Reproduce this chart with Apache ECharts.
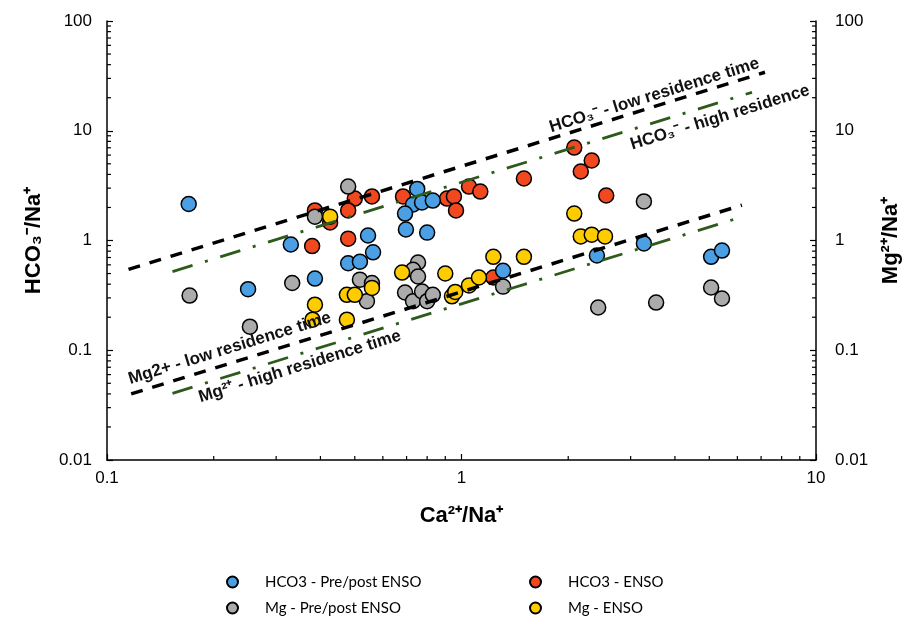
<!DOCTYPE html>
<html><head><meta charset="utf-8">
<script src="https://cdn.jsdelivr.net/npm/echarts@6/dist/echarts.min.js"></script>
<style>html,body{margin:0;padding:0;background:#fff}#c{width:920px;height:623px}</style>
</head><body><div id="c"></div>
<script>
// ---- data (x = Ca2+/Na+, y = ratio) ----
const hco3PrePost = [[0.17,2.15],[0.33,0.92],[0.386,0.45],[0.25,0.36],[0.75,2.95],[0.73,2.13],[0.774,2.22],[0.83,2.31],[0.693,1.76],[0.697,1.26],[0.80,1.18],[0.545,1.11],[0.563,0.78],[0.479,0.62],[0.517,0.64],[1.31,0.53],[2.41,0.73],[3.27,0.94],[5.06,0.71],[5.43,0.81]];
const hco3Enso = [[0.386,1.88],[0.50,2.41],[0.559,2.52],[0.479,1.88],[0.426,1.46],[0.479,1.04],[0.379,0.89],[0.684,2.52],[0.91,2.41],[0.952,2.52],[0.965,1.88],[1.05,3.10],[1.13,2.79],[1.50,3.67],[2.17,4.25],[2.08,7.03],[2.33,5.36],[2.56,2.57],[1.23,0.46]];
const mgPrePost = [[0.479,3.10],[0.386,1.65],[0.171,0.315],[0.253,0.164],[0.333,0.41],[0.517,0.44],[0.559,0.41],[0.541,0.28],[0.754,0.63],[0.73,0.54],[0.754,0.47],[0.693,0.336],[0.73,0.28],[0.774,0.343],[0.80,0.28],[0.83,0.32],[1.31,0.38],[3.27,2.27],[2.43,0.245],[3.54,0.272],[5.06,0.373],[5.43,0.296]];
const mgEnso = [[0.426,1.65],[0.386,0.26],[0.38,0.19],[0.475,0.19],[0.475,0.32],[0.50,0.32],[0.559,0.37],[0.68,0.51],[0.90,0.50],[0.94,0.31],[0.96,0.34],[1.05,0.39],[1.12,0.46],[1.23,0.71],[1.50,0.71],[2.08,1.76],[2.17,1.09],[2.33,1.13],[2.54,1.09]];
// reference lines (end points)
const hco3LowLine = [[0.115,0.545],[7.18,34.1]];
const hco3HighLine = [[0.153,0.52],[6.6,22.4]];
const mgLowLine = [[0.117,0.040],[6.18,2.1]];
const mgHighLine = [[0.153,0.0405],[6.22,1.65]];
// axis ranges / ticks
const xRange = [0.1, 10];
const yRange = [0.01, 100];
const minorMultipliers = [2,3,4,5,6,7,8,9];
const xDecades = [0.1, 1];
const yDecades = [0.01, 0.1, 1, 10];
// names
const seriesNames = ['HCO3 - Pre/post ENSO','HCO3 - ENSO','Mg - Pre/post ENSO','Mg - ENSO'];
const lineLabels = ['HCO\u2083\u207B - low residence time','HCO\u2083\u207B - high residence','Mg2+ - low residence time','Mg\u00B2\u207A - high residence time'];
const lineLabelAnchors = [[3.5,21],[5.36,13.2],[0.222,0.104],[0.35,0.071]];

const colors = {blue:'#4A9FE5', red:'#F2481F', gray:'#ABABAB', yellow:'#FFCC00', green:'#2E5A1C'};
const tickFont = {color:'#000', fontSize:17, fontFamily:'Liberation Sans'};
const nameFont = {color:'#000', fontSize:22, fontWeight:'bold', fontFamily:'Liberation Sans'};

const minorData = [];
xDecades.forEach(d => minorMultipliers.forEach(m => minorData.push([+(d*m).toPrecision(3), yRange[0], 0])));
yDecades.forEach(d => minorMultipliers.forEach(m => {
  const v = +(d*m).toPrecision(3);
  minorData.push([xRange[0], v, 1]);
  minorData.push([xRange[1], v, 2]);
}));

function scatter(name, data, color){
  return {type:'scatter', name, data, symbol:'circle', symbolSize:15,
    itemStyle:{color, borderColor:'#000', borderWidth:1.5, opacity:1}, z:2};
}
function refLine(data, color, type, width){
  return {type:'line', data, showSymbol:false, symbol:'none', silent:true, z:4,
    lineStyle:{color, type, width, cap:'butt'}};
}
const legendText = {color:'#000', fontSize:15, fontFamily:'Lato', lineHeight:18, padding:[0,0,0,22]};

const option = {
  animation:false,
  backgroundColor:'#fff',
  grid:{left:107, right:104, top:21, bottom:163, containLabel:false},
  xAxis:{type:'log', logBase:10, min:xRange[0], max:xRange[1],
    name:'Ca\u00B2\u207A/Na\u207A', nameLocation:'middle', nameGap:45, nameTextStyle:nameFont,
    axisLine:{show:true, onZero:false, lineStyle:{color:'#000', width:1.5}},
    axisTick:{show:true, inside:true, length:6, lineStyle:{color:'#000', width:1.2}},
    axisLabel:{...tickFont, margin:10},
    splitLine:{show:false}, minorTick:{show:false}},
  yAxis:[
    {type:'log', logBase:10, min:yRange[0], max:yRange[1], position:'left',
      name:'HCO\u2083\u207B/Na\u207A', nameLocation:'middle', nameRotate:90, nameGap:62, nameTextStyle:nameFont,
      axisLine:{show:true, lineStyle:{color:'#000', width:1.5}},
      axisTick:{show:true, inside:true, length:6, lineStyle:{color:'#000', width:1.2}},
      axisLabel:{...tickFont, margin:15}, splitLine:{show:false}},
    {type:'log', logBase:10, min:yRange[0], max:yRange[1], position:'right',
      name:'Mg\u00B2\u207A/Na\u207A', nameLocation:'middle', nameRotate:90, nameGap:64, nameTextStyle:nameFont,
      axisLine:{show:true, lineStyle:{color:'#000', width:1.5}},
      axisTick:{show:true, inside:true, length:6, lineStyle:{color:'#000', width:1.2}},
      axisLabel:{...tickFont, margin:19}, splitLine:{show:false}}
  ],
  legend:[
    {data:[seriesNames[0], seriesNames[2]], orient:'vertical', left:226, top:573, itemGap:8, padding:0,
      itemWidth:11, itemHeight:11, icon:'circle', textStyle:legendText},
    {data:[seriesNames[1], seriesNames[3]], orient:'vertical', left:529, top:573, itemGap:8, padding:0,
      itemWidth:11, itemHeight:11, icon:'circle', textStyle:legendText}
  ],
  series:[
    {type:'custom', name:'minorTicks', data:minorData, silent:true, clip:false, z:5,
      encode:{x:0, y:1},
      renderItem:function(params, api){
        const p = api.coord([api.value(0), api.value(1)]);
        const k = api.value(2);
        let s;
        if(k===0) s={x1:p[0], y1:p[1], x2:p[0], y2:p[1]-4};
        else if(k===1) s={x1:p[0], y1:p[1], x2:p[0]+4, y2:p[1]};
        else s={x1:p[0], y1:p[1], x2:p[0]-4, y2:p[1]};
        return {type:'line', shape:s, style:{stroke:'#000', lineWidth:1.2}};
      }},
    scatter(seriesNames[1], hco3Enso, colors.red),
    scatter(seriesNames[0], hco3PrePost, colors.blue),
    Object.assign(scatter(seriesNames[2], mgPrePost, colors.gray), {yAxisIndex:1}),
    Object.assign(scatter(seriesNames[3], mgEnso, colors.yellow), {yAxisIndex:1}),
    refLine(hco3LowLine, '#000', [12,10], 3.5),
    refLine(hco3HighLine, colors.green, [21,13,3,13], 2.8),
    refLine(mgLowLine, '#000', [12,10], 3.5),
    refLine(mgHighLine, colors.green, [21,13,3,13], 2.8)
  ]
};

const chart = echarts.init(document.getElementById('c'), null, {renderer:'canvas'});
chart.setOption(option);
const rot = Math.atan(109.75/354.5);
const graphics = lineLabels.map((t, i) => {
  const p = chart.convertToPixel({xAxisIndex:0, yAxisIndex:0}, lineLabelAnchors[i]);
  return {type:'text', x:p[0], y:p[1], rotation:rot, z:10, silent:true,
    style:{text:t, fill:'#111', font:'bold 17px "Liberation Sans"', align:'center', verticalAlign:'middle'}};
});
chart.setOption({graphic:graphics});
</script>
</body></html>
